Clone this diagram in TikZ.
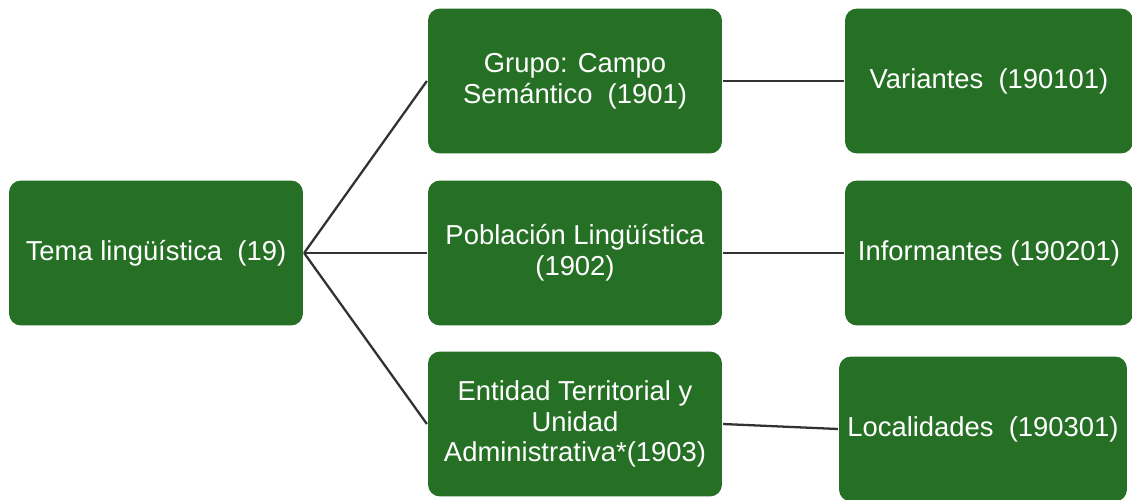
\documentclass[tikz,border=0pt]{standalone}
\usepackage{fontspec}
\setmainfont{Liberation Sans}
\usepackage{tikz}
\definecolor{boxgreen}{RGB}{38,112,38}
\definecolor{linegray}{RGB}{50,50,50}

\begin{document}
\begin{tikzpicture}[x=0.02cm,y=-0.02cm,line width=1.3pt,box/.style={fill=boxgreen,rounded corners=0.24cm,text=white,align=center,minimum width=5.88cm,minimum height=2.9cm,inner sep=0pt,font=\fontsize{15.6}{17.4}\selectfont},rbox/.style={box,minimum width=5.76cm},link/.style={draw=linegray}]
\useasboundingbox (0,0) rectangle (1132,500);
\node[box] (tema) at (156,253) {Tema lingüística \ (19)};
\node[box] (grupo) at (575,81) {Grupo: Campo\\Semántico \ (1901)};
\node[box] (pobl) at (575,253) {Población Lingüística\\(1902)};
\node[box] (ent) at (575,424) {Entidad Territorial y\\Unidad\\Administrativa*(1903)};
\node[rbox] (var) at (989,81) {Variantes \ (190101)};
\node[rbox] (inf) at (989,253) {Informantes (190201)};
\node[rbox] (loc) at (983,429) {Localidades \ (190301)};
\foreach \m in {grupo,pobl,ent}{\draw[link] (tema.east) -- (\m.west);};
\draw[link] (grupo.east) -- (var.west);
\draw[link] (pobl.east) -- (inf.west);
\draw[link] (ent.east) -- (loc.west);
\end{tikzpicture}
\end{document}
